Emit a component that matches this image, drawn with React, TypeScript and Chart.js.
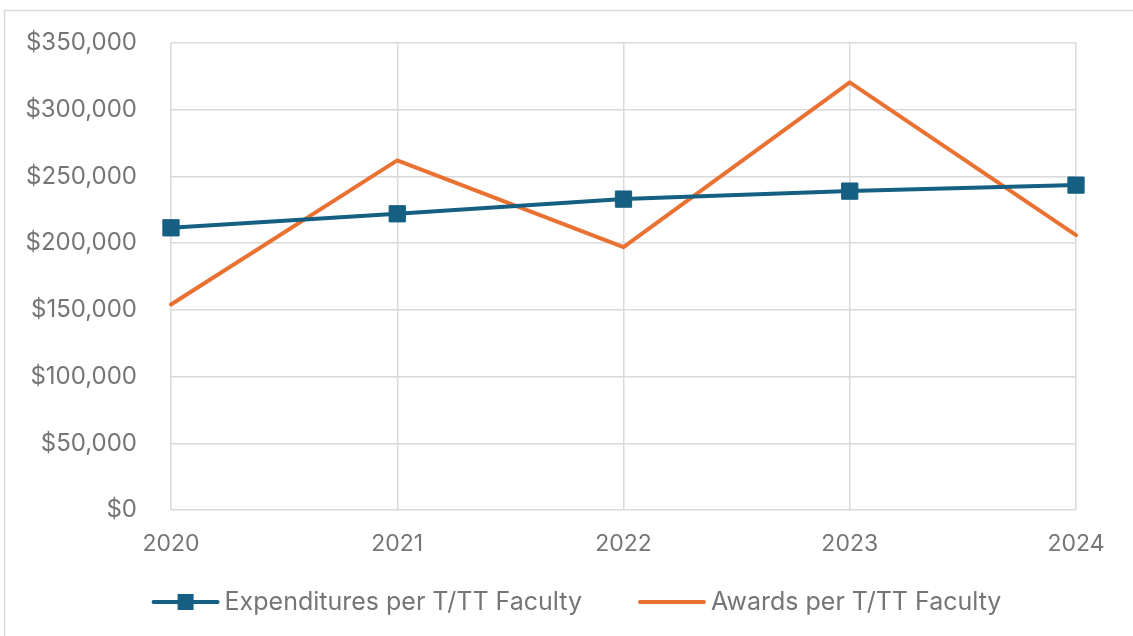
import React, { useEffect, useRef } from "react";
import { Chart, registerables } from "chart.js";

Chart.register(...registerables);

const years = ["2020", "2021", "2022", "2023", "2024"];
const expenditures = [211500, 222000, 233000, 239000, 243500];
const awards = [154000, 262000, 197000, 320500, 206000];
const seriesNames = ["Expenditures per T/TT Faculty", "Awards per T/TT Faculty"];

const BLUE = "#156082";
const ORANGE = "#E97132";
const TEXT = "#757575";
const GRID = "#d9d9d9";
const FONT = "Inter, 'Liberation Sans', sans-serif";

const frameAndLegend = {
  id: "frameAndLegend",
  beforeDraw(chart: any) {
    const ctx = chart.ctx;
    ctx.save();
    ctx.fillStyle = "#ffffff";
    ctx.fillRect(0, 0, chart.width, chart.height);
    ctx.strokeStyle = GRID;
    ctx.lineWidth = 1.5;
    ctx.strokeRect(4.5, 10.5, chart.width + 20, chart.height + 20);
    ctx.restore();
  },
  afterDraw(chart: any) {
    const ctx = chart.ctx;
    ctx.save();
    ctx.font = `25px ${FONT}`;
    ctx.textBaseline = "middle";
    ctx.textAlign = "left";
    const y = 602;
    const lineW = 64;
    const gapText = 7;
    const itemGap = 58;
    const sets = chart.data.datasets;
    const widths = sets.map((d: any) => ctx.measureText(d.label).width);
    const total = lineW * 2 + gapText * 2 + widths[0] + widths[1] + itemGap;
    let x = 577.5 - total / 2;
    sets.forEach((d: any, i: number) => {
      ctx.strokeStyle = d.borderColor;
      ctx.lineWidth = 4;
      ctx.lineCap = "round";
      ctx.beginPath();
      ctx.moveTo(x, y);
      ctx.lineTo(x + lineW, y);
      ctx.stroke();
      if (d.pointRadius > 0) {
        ctx.fillStyle = d.pointBackgroundColor;
        ctx.fillRect(x + lineW / 2 - 8, y - 8, 16, 16);
      }
      ctx.fillStyle = TEXT;
      ctx.fillText(d.label, x + lineW + gapText, y);
      x += lineW + gapText + widths[i] + itemGap;
    });
    ctx.restore();
  },
};

export default function App() {
  const ref = useRef<HTMLCanvasElement | null>(null);
  useEffect(() => {
    if (!ref.current) return;
    const chart = new Chart(ref.current, {
      type: "line",
      data: {
        labels: years,
        datasets: [
          {
            label: seriesNames[0],
            data: expenditures,
            borderColor: BLUE,
            backgroundColor: BLUE,
            pointBackgroundColor: BLUE,
            pointBorderColor: BLUE,
            pointStyle: "rect",
            pointRadius: 11.5,
            pointBorderWidth: 1,
            borderWidth: 4,
            borderJoinStyle: "round",
            borderCapStyle: "round",
            tension: 0,
          },
          {
            label: seriesNames[1],
            data: awards,
            borderColor: ORANGE,
            backgroundColor: ORANGE,
            pointBackgroundColor: ORANGE,
            pointRadius: 0,
            borderWidth: 4,
            borderJoinStyle: "round",
            borderCapStyle: "round",
            tension: 0,
          },
        ],
      },
      options: {
        responsive: false,
        animation: false,
        layout: { padding: { left: 0, top: 43, right: 57, bottom: 78 } },
        plugins: {
          legend: { display: false },
          tooltip: { enabled: false },
        },
        scales: {
          x: {
            offset: false,
            grid: { color: GRID, lineWidth: 1.5, drawTicks: false },
            border: { display: false },
            ticks: {
              color: TEXT,
              font: { family: FONT, size: 23 },
              padding: 20,
              maxRotation: 0,
            },
            afterFit(scale: any) {
              scale.height = 48;
              scale.paddingLeft = 0;
              scale.paddingRight = 0;
            },
          },
          y: {
            min: 0,
            max: 350000,
            grid: { color: GRID, lineWidth: 1.5, drawTicks: false },
            border: { display: false },
            ticks: {
              stepSize: 50000,
              color: TEXT,
              font: { family: FONT, size: 24 },
              padding: 34,
              callback: (v: any) => "$" + Number(v).toLocaleString("en-US"),
            },
            afterFit(scale: any) {
              scale.width = 171;
              scale.paddingTop = 0;
              scale.paddingBottom = 0;
            },
          },
        },
      },
      plugins: [frameAndLegend],
    });
    return () => chart.destroy();
  }, []);
  return (
    <div style={{ position: "fixed", left: 0, top: 0, width: 1133, height: 636, background: "#fff" }}>
      <canvas ref={ref} width={1133} height={636} />
    </div>
  );
}
